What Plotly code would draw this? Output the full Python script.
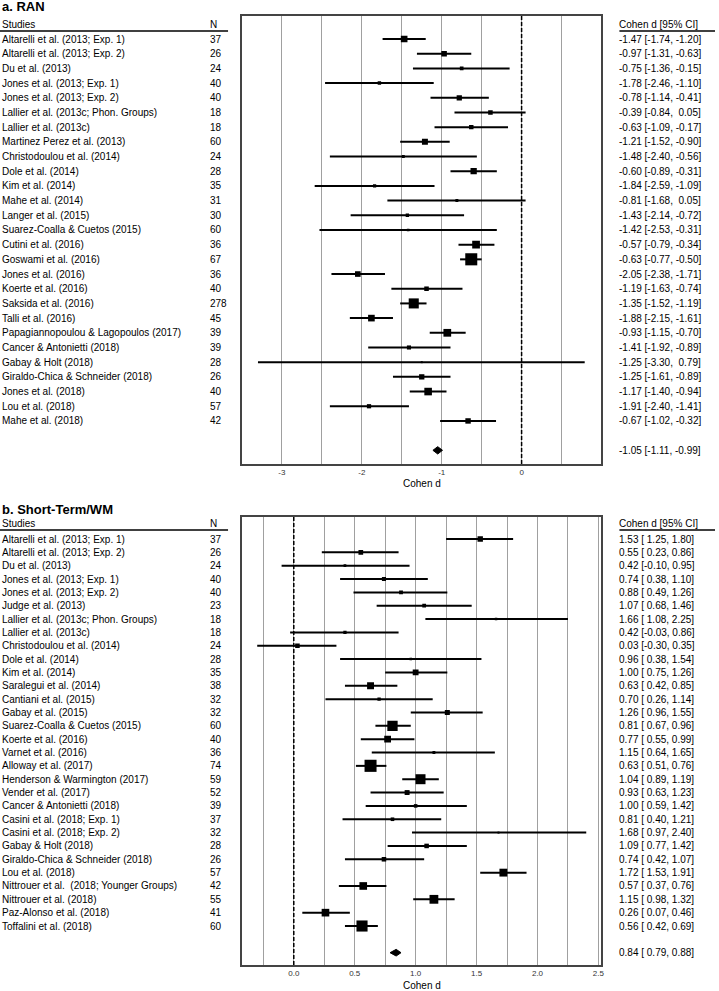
"""
Forest plots: a. RAN y b. Short-Term/WM (Cohen d con IC 95%)
"""

import numpy as np
import plotly.graph_objects as go

W, H = 719, 991

# ---- a. RAN ----
estudios_a = [
    "Altarelli et al. (2013; Exp. 1)", "Altarelli et al. (2013; Exp. 2)", "Du et al. (2013)",
    "Jones et al. (2013; Exp. 1)", "Jones et al. (2013; Exp. 2)", "Lallier et al. (2013c; Phon. Groups)",
    "Lallier et al. (2013c)", "Martinez Perez et al. (2013)", "Christodoulou et al. (2014)",
    "Dole et al. (2014)", "Kim et al. (2014)", "Mahe et al. (2014)", "Langer et al. (2015)",
    "Suarez-Coalla & Cuetos (2015)", "Cutini et al. (2016)", "Goswami et al. (2016)",
    "Jones et al. (2016)", "Koerte et al. (2016)", "Saksida et al. (2016)", "Talli et al. (2016)",
    "Papagiannopoulou & Lagopoulos (2017)", "Cancer & Antonietti (2018)", "Gabay & Holt (2018)",
    "Giraldo-Chica & Schneider (2018)", "Jones et al. (2018)", "Lou et al. (2018)", "Mahe et al. (2018)",
]
n_a = [37, 26, 24, 40, 40, 18, 18, 60, 24, 28, 35, 31, 30, 60, 36, 67, 36, 40, 278, 45, 39, 39, 28, 26, 40, 57, 42]
d_a = [-1.47, -0.97, -0.75, -1.78, -0.78, -0.39, -0.63, -1.21, -1.48, -0.60, -1.84, -0.81, -1.43,
       -1.42, -0.57, -0.63, -2.05, -1.19, -1.35, -1.88, -0.93, -1.41, -1.25, -1.25, -1.17, -1.91, -0.67]
li_a = [-1.74, -1.31, -1.36, -2.46, -1.14, -0.84, -1.09, -1.52, -2.40, -0.89, -2.59, -1.68, -2.14,
        -2.53, -0.79, -0.77, -2.38, -1.63, -1.52, -2.15, -1.15, -1.92, -3.30, -1.61, -1.40, -2.40, -1.02]
ls_a = [-1.20, -0.63, -0.15, -1.10, -0.41, 0.05, -0.17, -0.90, -0.56, -0.31, -1.09, 0.05, -0.72,
        -0.31, -0.34, -0.50, -1.71, -0.74, -1.19, -1.61, -0.70, -0.89, 0.79, -0.89, -0.94, -1.41, -0.32]
resumen_a = [-1.05, -1.11, -0.99]
ticks_a = [-3, -2.5, -2, -1.5, -1, -0.5, 0, 0.5]
etiquetas_a = ["-3", "", "-2", "", "-1", "", "0", ""]

# ---- b. Short-Term/WM ----
estudios_b = [
    "Altarelli et al. (2013; Exp. 1)", "Altarelli et al. (2013; Exp. 2)", "Du et al. (2013)",
    "Jones et al. (2013; Exp. 1)", "Jones et al. (2013; Exp. 2)", "Judge et al. (2013)",
    "Lallier et al. (2013c; Phon. Groups)", "Lallier et al. (2013c)", "Christodoulou et al. (2014)",
    "Dole et al. (2014)", "Kim et al. (2014)", "Saralegui et al. (2014)", "Cantiani et al. (2015)",
    "Gabay et al. (2015)", "Suarez-Coalla & Cuetos (2015)", "Koerte et al. (2016)", "Varnet et al. (2016)",
    "Alloway et al. (2017)", "Henderson & Warmington (2017)", "Vender et al. (2017)",
    "Cancer & Antonietti (2018)", "Casini et al. (2018; Exp. 1)", "Casini et al. (2018; Exp. 2)",
    "Gabay & Holt (2018)", "Giraldo-Chica & Schneider (2018)", "Lou et al. (2018)",
    "Nittrouer et al.\u00a0 (2018; Younger Groups)", "Nittrouer et al. (2018)",
    "Paz-Alonso et al. (2018)", "Toffalini et al. (2018)",
]
n_b = [37, 26, 24, 40, 40, 23, 18, 18, 24, 28, 35, 38, 32, 32, 60, 40, 36, 74, 59, 52,
       39, 37, 32, 28, 26, 57, 42, 55, 41, 60]
d_b = [1.53, 0.55, 0.42, 0.74, 0.88, 1.07, 1.66, 0.42, 0.03, 0.96, 1.00, 0.63, 0.70, 1.26, 0.81,
       0.77, 1.15, 0.63, 1.04, 0.93, 1.00, 0.81, 1.68, 1.09, 0.74, 1.72, 0.57, 1.15, 0.26, 0.56]
li_b = [1.25, 0.23, -0.10, 0.38, 0.49, 0.68, 1.08, -0.03, -0.30, 0.38, 0.75, 0.42, 0.26, 0.96, 0.67,
        0.55, 0.64, 0.51, 0.89, 0.63, 0.59, 0.40, 0.97, 0.77, 0.42, 1.53, 0.37, 0.98, 0.07, 0.42]
ls_b = [1.80, 0.86, 0.95, 1.10, 1.26, 1.46, 2.25, 0.86, 0.35, 1.54, 1.26, 0.85, 1.14, 1.55, 0.96,
        0.99, 1.65, 0.76, 1.19, 1.23, 1.42, 1.21, 2.40, 1.42, 1.07, 1.91, 0.76, 1.32, 0.46, 0.69]
resumen_b = [0.84, 0.79, 0.88]
ticks_b = [-0.25, 0, 0.25, 0.5, 0.75, 1, 1.25, 1.5, 1.75, 2, 2.25, 2.5]
etiquetas_b = ["", "0.0", "", "0.5", "", "1.0", "", "1.5", "", "2.0", "", "2.5"]


def px_x(px):
    return px / W


def px_y(py):
    return 1 - py / H


def tamanos(li, ls):
    # tamaño del cuadrado ~ 1/se (como metafor)
    w = 3.92 / (np.array(ls) - np.array(li))
    w = (w - w.min()) / (w.max() - w.min())
    return 2 + 10 * w


def columna(vals):
    s = [f"{v:.2f}" for v in vals]
    ancho = max(len(t) for t in s)
    return [t.rjust(ancho, "\u00a0") for t in s]


def textos_ic(d, li, ls, res):
    cd = columna(list(d) + [res[0]])
    cl = columna(list(li) + [res[1]])
    cu = columna(list(ls) + [res[2]])
    return [f"{a}\u00a0[{b},\u00a0{c}]" for a, b, c in zip(cd, cl, cu)]


paneles = [
    dict(titulo="a. RAN", estudios=estudios_a, n=n_a, d=d_a, li=li_a, ls=ls_a, res=resumen_a,
         ticks=ticks_a, etiquetas=etiquetas_a, xr=[-3.5, 1.0],
         top=16, bottom=464, fila0=39, paso=14.69, titulo_y=6, cab_y=24, linea_y=31, eje_y=483),
    dict(titulo="b. Short-Term/WM", estudios=estudios_b, n=n_b, d=d_b, li=li_b, ls=ls_b, res=resumen_b,
         ticks=ticks_b, etiquetas=etiquetas_b, xr=[-0.425, 2.525],
         top=517, bottom=965, fila0=539, paso=13.345, titulo_y=509, cab_y=523, linea_y=530, eje_y=985),
]

fig = go.Figure()
anotaciones = []
formas = []
fuente = dict(family="Liberation Sans, Arial, sans-serif", size=10, color="black")
x_izq, x_der = 243, 604

for i, p in enumerate(paneles):
    sfx = "" if i == 0 else str(i + 1)
    xa, ya = "x" + sfx, "y" + sfx
    k = len(p["estudios"])
    filas = list(range(k))
    fila_res = k + 1
    y_rango = [(p["bottom"] - p["fila0"]) / p["paso"], (p["top"] - p["fila0"]) / p["paso"]]
    d = np.array(p["d"])
    li = np.array(p["li"])
    ls = np.array(p["ls"])

    fig.add_trace(go.Scatter(
        x=d, y=filas, mode="markers", xaxis=xa, yaxis=ya,
        marker=dict(symbol="square", color="black", opacity=1, size=tamanos(li, ls), line=dict(width=0)),
        error_x=dict(type="data", symmetric=False, array=ls - d, arrayminus=d - li,
                     color="black", thickness=2, width=0),
        showlegend=False, hoverinfo="skip",
    ))

    # diamante del efecto global
    est, lo, hi = p["res"]
    h = 0.25
    fig.add_trace(go.Scatter(
        x=[lo, est, hi, est, lo], y=[fila_res, fila_res - h, fila_res, fila_res + h, fila_res],
        mode="lines", fill="toself", fillcolor="black", line=dict(color="black", width=1),
        xaxis=xa, yaxis=ya, showlegend=False, hoverinfo="skip",
    ))

    dom_x = [px_x(x_izq), px_x(x_der)]
    dom_y = [px_y(p["bottom"]), px_y(p["top"])]
    fig.update_layout(**{
        "xaxis" + sfx: dict(
            domain=dom_x, anchor=ya, range=p["xr"], tickmode="array", tickvals=p["ticks"],
            ticktext=p["etiquetas"], showgrid=True, gridcolor="#a0a0a0", gridwidth=1,
            zeroline=False, showline=True, mirror=True, linecolor="#444", linewidth=1.5,
            ticks="", tickfont=dict(family=fuente["family"], size=8, color="#333"),
        ),
        "yaxis" + sfx: dict(
            domain=dom_y, anchor=xa, range=y_rango, showgrid=False, zeroline=False,
            showticklabels=False, showline=True, mirror=True, linecolor="#444", linewidth=1.5,
            ticks="",
        ),
    })

    # línea de referencia en 0
    formas.append(dict(type="line", xref=xa, yref=ya + " domain", x0=0, x1=0, y0=0, y1=1,
                       line=dict(color="black", width=1.5, dash="4px,2px")))

    # textos: estudios, N, IC
    ics = textos_ic(d, li, ls, p["res"])
    for fila, est_txt, n, ic in zip(filas, p["estudios"], p["n"], ics):
        anotaciones.append(dict(x=0, y=fila, xref="paper", yref=ya, text=est_txt,
                                xanchor="left", yanchor="middle", showarrow=False, font=fuente))
        anotaciones.append(dict(x=px_x(209), y=fila, xref="paper", yref=ya, text=str(n),
                                xanchor="left", yanchor="middle", showarrow=False, font=fuente))
        anotaciones.append(dict(x=px_x(620), y=fila, xref="paper", yref=ya, text=ic,
                                xanchor="left", yanchor="middle", showarrow=False, font=fuente))
    anotaciones.append(dict(x=px_x(620), y=fila_res, xref="paper", yref=ya, text=ics[-1],
                            xanchor="left", yanchor="middle", showarrow=False, font=fuente))

    # cabeceras
    for xp, txt in [(0, "Studies"), (209, "N"), (620, "Cohen d [95% CI]")]:
        anotaciones.append(dict(x=px_x(xp), y=px_y(p["cab_y"]), xref="paper", yref="paper", text=txt,
                                xanchor="left", yanchor="middle", showarrow=False, font=fuente))
    for x0, x1 in [(0, 229), (622, 718)]:
        formas.append(dict(type="line", xref="paper", yref="paper", x0=px_x(x0), x1=px_x(x1),
                           y0=px_y(p["linea_y"]), y1=px_y(p["linea_y"]),
                           line=dict(color="black", width=1.5)))

    # título del panel y del eje
    anotaciones.append(dict(x=0, y=px_y(p["titulo_y"]), xref="paper", yref="paper",
                            text="<b>" + p["titulo"] + "</b>", xanchor="left", yanchor="middle",
                            showarrow=False, font=dict(family=fuente["family"], size=13, color="black")))
    anotaciones.append(dict(x=(dom_x[0] + dom_x[1]) / 2, y=px_y(p["eje_y"]), xref="paper", yref="paper",
                            text="Cohen d", xanchor="center", yanchor="middle", showarrow=False,
                            font=fuente))

fig.update_layout(
    width=W, height=H,
    margin=dict(l=0, r=0, t=0, b=0),
    plot_bgcolor="white", paper_bgcolor="white",
    annotations=anotaciones, shapes=formas,
    showlegend=False,
)

# sin margen del body para que la figura ocupe la ventana completa
fig.write_html("out.html", config={"displayModeBar": False},
               post_script="document.body.style.margin = '0';")
